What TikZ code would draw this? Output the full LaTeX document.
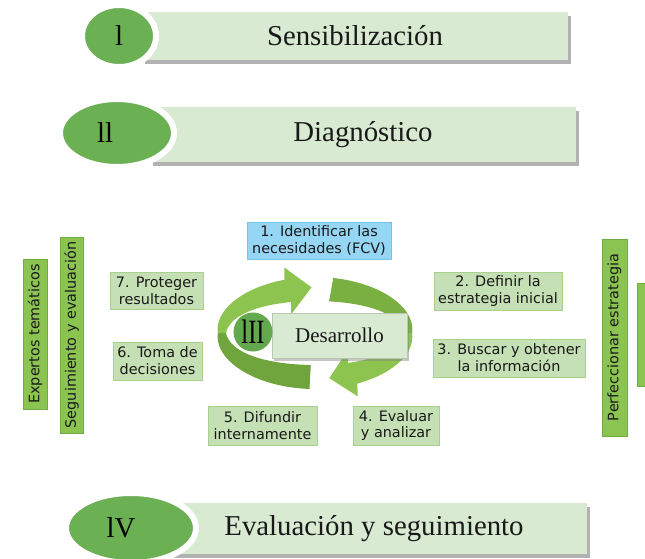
\documentclass[tikz,border=0pt]{standalone}
\usepackage{fontspec}
\setmainfont{Liberation Serif}
\newfontfamily\labelfont{DejaVu Sans}
\usetikzlibrary{shapes.geometric,shadows}
\definecolor{bandfill}{RGB}{216,234,210}
\definecolor{ovalgreen}{RGB}{108,176,84}
\definecolor{ovaldark}{RGB}{100,168,78}
\definecolor{boxfill}{RGB}{197,224,180}
\definecolor{boxline}{RGB}{169,209,142}
\definecolor{bluefill}{RGB}{150,214,245}
\definecolor{blueline}{RGB}{118,196,236}
\definecolor{vfill}{RGB}{140,196,82}
\definecolor{vline}{RGB}{112,170,66}
\definecolor{arrlight}{RGB}{141,196,80}
\definecolor{arrdark}{RGB}{112,164,60}
\definecolor{arrmid}{RGB}{122,176,66}
\begin{document}
\begin{tikzpicture}[x=1pt,y=-1pt,
  stagebar/.style={rectangle, fill=bandfill, inner sep=0pt,
    font=\fontsize{28.8}{32}\selectfont, text=black!90,
    drop shadow={shadow xshift=3pt,shadow yshift=-4pt,opacity=0.55,fill=black!55}},
  stageoval/.style={ellipse, fill=ovalgreen, draw=white, line width=6pt, inner sep=0pt,
    font=\fontsize{28.8}{32}\selectfont, text=black},
  stepbox/.style={rectangle, fill=boxfill, draw=boxline, line width=1pt, inner sep=0pt,
    align=center, font=\labelfont\fontsize{14.4}{16.8}\selectfont, text=black!90},
  vbox/.style={rectangle, fill=vfill, draw=vline, line width=1pt, inner sep=0pt,
    rotate=90, font=\labelfont\fontsize{14.4}{16.8}\selectfont, text=black!90},
]
\useasboundingbox (0,0) rectangle (645,558);

% ---- stage bars
\node[stagebar, minimum width=426pt, minimum height=48pt] (bar1) at (355,36) {Sensibilización};
\node[stageoval, minimum width=74pt, minimum height=62pt] (ov1) at (119,36) {l};

\node[stagebar, minimum width=426pt, minimum height=55pt] (bar2) at (363,134.5) {Diagnóstico};
\node[stageoval, minimum width=114pt, minimum height=68pt] (ov2) at (117,133) {\hspace*{-24pt}ll};

\node[stagebar, minimum width=426pt, minimum height=51pt] (bar4) at (374,528.5) {Evaluación y seguimiento};
\node[stageoval, minimum width=130pt, minimum height=70pt] (ov4) at (131,528) {\hspace*{-20pt}lV};

% ---- circular arrows
\fill[arrdark] plot[domain=267:178,samples=40] ({315+(97+8*abs(sin(\x)))*cos(\x)},{333-(48+8*abs(sin(\x)))*sin(\x)})
  -- plot[domain=178:267,samples=40] ({315+(89-8*abs(sin(\x)))*cos(\x)},{333-(40-8*abs(sin(\x)))*sin(\x)}) -- cycle;
\fill[arrlight] plot[domain=180:107,samples=40] ({315+(97+8*abs(sin(\x)))*cos(\x)},{333-(48+8*abs(sin(\x)))*sin(\x)})
  -- (284.4,267.5) -- (311.5,287.4) -- (291.2,314.2)
  -- plot[domain=107:180,samples=40] ({315+(89-8*abs(sin(\x)))*cos(\x)},{333-(40-8*abs(sin(\x)))*sin(\x)}) -- cycle;
\fill[arrmid] plot[domain=80:-2,samples=40] ({315+(97+8*abs(sin(\x)))*cos(\x)},{333-(48+8*abs(sin(\x)))*sin(\x)})
  -- plot[domain=-2:80,samples=40] ({315+(89-8*abs(sin(\x)))*cos(\x)},{333-(40-8*abs(sin(\x)))*sin(\x)}) -- cycle;
\fill[arrlight] plot[domain=0:-66,samples=40] ({315+(97+8*abs(sin(\x)))*cos(\x)},{333-(48+8*abs(sin(\x)))*sin(\x)})
  -- (357.6,396.3) -- (329.3,378.1) -- (348.0,350.1)
  -- plot[domain=-66:0,samples=40] ({315+(89-8*abs(sin(\x)))*cos(\x)},{333-(40-8*abs(sin(\x)))*sin(\x)}) -- cycle;

% ---- development box
\node[rectangle, fill=bandfill, draw=bandfill!85!black, line width=0.6pt, minimum width=135pt, minimum height=45pt,
  inner sep=0pt, font=\fontsize{21}{24}\selectfont, text=black!90,
  drop shadow={shadow xshift=2pt,shadow yshift=-3pt,opacity=0.45,fill=black!50}] (dev) at (339.5,335.5) {Desarrollo};
\node[circle, fill=ovaldark, minimum size=39pt, inner sep=0pt, text=black] (ov3) at (253,332)
  {\fontsize{34}{36}\selectfont\scalebox{0.72}[1]{lII}};

% ---- steps
\node[stepbox, fill=bluefill, draw=blueline, minimum width=144pt, minimum height=37pt] (s1) at (319,240.5) {1. Identificar las\\necesidades (FCV)};
\node[stepbox, minimum width=128pt, minimum height=38pt] (s2) at (498,291) {2. Definir la\\estrategia inicial};
\node[stepbox, minimum width=152pt, minimum height=38pt] (s3) at (509,358) {3. Buscar y obtener\\la información};
\node[stepbox, minimum width=86pt, minimum height=39pt] (s4) at (396,425.5) {4. Evaluar\\y analizar};
\node[stepbox, minimum width=109pt, minimum height=39pt] (s5) at (262.5,425.5) {5. Difundir\\internamente};
\node[stepbox, minimum width=89pt, minimum height=38pt] (s6) at (157.5,361) {6. Toma de\\decisiones};
\node[stepbox, minimum width=93pt, minimum height=37pt] (s7) at (156.5,290.5) {7. Proteger\\resultados};

% ---- vertical bars
\node[vbox, minimum width=150pt, minimum height=24pt] (v1) at (35,334) {Expertos temáticos};
\node[vbox, minimum width=196pt, minimum height=23pt] (v2) at (71.5,335) {Seguimiento y evaluación};
\node[vbox, minimum width=197pt, minimum height=25pt] (v3) at (614.5,337.5) {Perfeccionar estrategia};
\node[vbox, minimum width=103pt, minimum height=24pt] (v4) at (649,334.5) {};
\end{tikzpicture}
\end{document}
